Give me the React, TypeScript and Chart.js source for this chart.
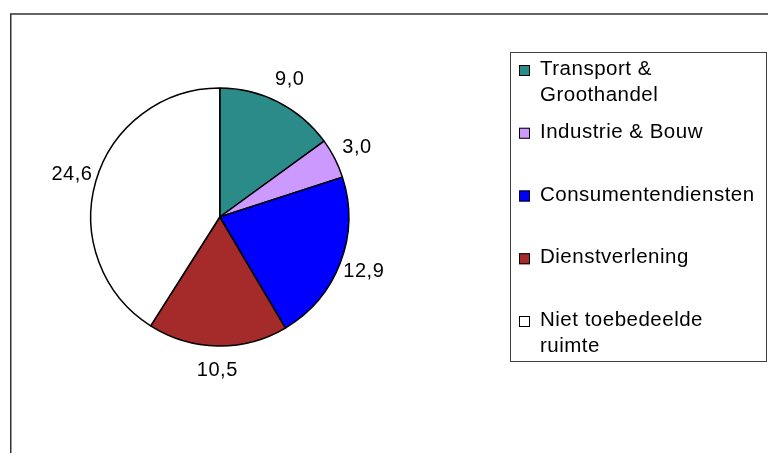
import React, { useEffect, useRef } from "react";
import { Chart, registerables } from "chart.js";

Chart.register(...registerables);

const categories: string[][] = [
  ["Transport &", "Groothandel"],
  ["Industrie & Bouw"],
  ["Consumentendiensten"],
  ["Dienstverlening"],
  ["Niet toebedeelde", "ruimte"],
];
const values: number[] = [9.0, 3.0, 12.9, 10.5, 24.6];
const colors: string[] = ["#2A8B89", "#CC99FF", "#0000FF", "#A52A2A", "#FFFFFF"];

const FONT = "Liberation Sans, Arial, Helvetica, sans-serif";

const fmt = (v: number) => v.toFixed(1).replace(".", ",");

const framePlugin = {
  id: "frame",
  beforeDraw(chart: any) {
    const ctx = chart.ctx;
    ctx.save();
    ctx.fillStyle = "#ffffff";
    ctx.fillRect(0, 0, chart.width, chart.height);
    ctx.strokeStyle = "#333333";
    ctx.lineWidth = 1.5;
    ctx.beginPath();
    ctx.moveTo(10.75, chart.height);
    ctx.lineTo(10.75, 14);
    ctx.lineTo(chart.width, 14);
    ctx.stroke();
    ctx.restore();
  },
};

const labelPlugin = {
  id: "sliceLabels",
  afterDatasetsDraw(chart: any) {
    const ctx = chart.ctx;
    const meta = chart.getDatasetMeta(0);
    const data = chart.data.datasets[0].data as number[];
    ctx.save();
    ctx.font = `20px ${FONT}`;
    ctx.fillStyle = "#000000";
    ctx.textAlign = "center";
    ctx.textBaseline = "middle";
    (ctx as any).letterSpacing = "0.5px";
    meta.data.forEach((arc: any, i: number) => {
      const p = arc.getProps(["x", "y", "startAngle", "endAngle", "outerRadius"], true);
      const mid = (p.startAngle + p.endAngle) / 2;
      const d = p.outerRadius + 25;
      ctx.fillText(fmt(data[i]), p.x + Math.cos(mid) * d, p.y + Math.sin(mid) * d);
    });
    ctx.restore();
  },
};

const legendPlugin = {
  id: "boxLegend",
  afterDraw(chart: any) {
    const ctx = chart.ctx;
    const bg = chart.data.datasets[0].backgroundColor as string[];
    const labels = chart.data.labels as string[][];
    ctx.save();
    ctx.strokeStyle = "#404040";
    ctx.lineWidth = 1;
    ctx.strokeRect(510.5, 52.5, 256, 309);
    ctx.font = `20.5px ${FONT}`;
    ctx.fillStyle = "#000000";
    ctx.textAlign = "left";
    ctx.textBaseline = "alphabetic";
    (ctx as any).letterSpacing = "0.5px";
    const firstBaseline = 75;
    const step = 62.75;
    const lineH = 26;
    labels.forEach((lines, i) => {
      const by = firstBaseline + i * step;
      ctx.fillStyle = bg[i];
      ctx.fillRect(519, by - 10, 11, 11);
      ctx.strokeStyle = "#000000";
      ctx.lineWidth = 1;
      ctx.strokeRect(519.5, by - 9.5, 10, 10);
      ctx.fillStyle = "#000000";
      lines.forEach((ln, j) => {
        ctx.fillText(ln, 540, by + j * lineH);
      });
    });
    ctx.restore();
  },
};

export default function App() {
  const ref = useRef<HTMLCanvasElement>(null);
  useEffect(() => {
    if (!ref.current) return;
    const chart = new Chart(ref.current, {
      type: "pie",
      data: {
        labels: categories as any,
        datasets: [
          {
            data: values,
            backgroundColor: colors,
            borderColor: "#000000",
            borderWidth: 1.5,
          },
        ],
      },
      options: {
        responsive: false,
        animation: false,
        devicePixelRatio: 1,
        layout: {
          padding: { left: 90, right: 418.5, top: 87.25, bottom: 106.25 },
        },
        plugins: {
          legend: { display: false },
          tooltip: { enabled: false },
          title: { display: false },
        },
      },
      plugins: [framePlugin, labelPlugin, legendPlugin],
    });
    return () => chart.destroy();
  }, []);
  return (
    <div style={{ position: "fixed", left: 0, top: 0, width: 768, height: 453, background: "#fff" }}>
      <canvas ref={ref} width={768} height={453} style={{ display: "block" }} />
    </div>
  );
}
